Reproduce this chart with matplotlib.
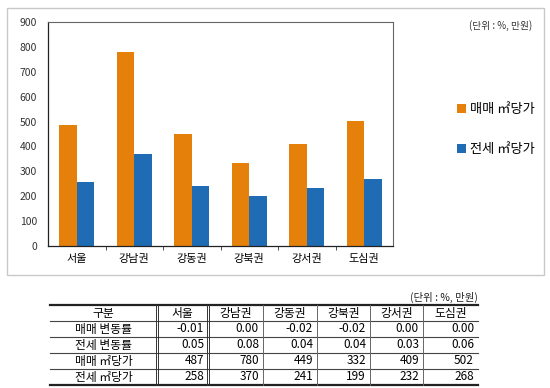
import matplotlib
matplotlib.use("Agg")
import matplotlib.pyplot as plt
import numpy as np
from matplotlib.patches import Rectangle
from matplotlib.lines import Line2D

plt.rcParams['font.family'] = ['Noto Sans CJK KR', 'DejaVu Sans']

regions = ['서울', '강남권', '강동권', '강북권', '강서권', '도심권']
sale_per_m2 = [487, 780, 449, 332, 409, 502]
jeonse_per_m2 = [258, 370, 241, 199, 232, 268]
sale_change = ['-0.01', '0.00', '-0.02', '-0.02', '0.00', '0.00']
jeonse_change = ['0.05', '0.08', '0.04', '0.04', '0.03', '0.06']
series_names = ['매매 ㎡당가', '전세 ㎡당가']
row_labels = ['매매 변동률', '전세 변동률', '매매 ㎡당가', '전세 ㎡당가']
yticks = list(range(0, 901, 100))
unit_text = '(단위 : %, 만원)'
header_first = '구분'

ORANGE = '#E5800B'
BLUE = '#1F6BB4'

W, H = 550, 388
fig = plt.figure(figsize=(W / 100, H / 100), dpi=100)

def px_axes(x0, y0, x1, y1):
    return fig.add_axes([x0 / W, 1 - y1 / H, (x1 - x0) / W, (y1 - y0) / H])

# overlay for borders and table
ov = fig.add_axes([0, 0, 1, 1])
ov.set_xlim(0, W)
ov.set_ylim(H, 0)
ov.axis('off')
ov.add_patch(Rectangle((7, 8), 537, 267, fill=False, ec='#c8c8c8', lw=1.0))

ax = px_axes(48, 22, 393, 246)
x = np.arange(len(regions))
bw = 0.305
ax.bar(x - bw / 2, sale_per_m2, bw, color=ORANGE, label=series_names[0])
ax.bar(x + bw / 2, jeonse_per_m2, bw, color=BLUE, label=series_names[1])
ax.set_xlim(-0.5, len(regions) - 0.5)
ax.set_ylim(0, 900)
ax.set_yticks(yticks)
ax.set_yticklabels([str(v) for v in yticks], fontsize=7.5, color='#333333')
ax.set_xticks(x)
ax.set_xticklabels(regions, fontsize=8)
ax.set_xticks(np.arange(0.5, len(regions) - 0.5, 1), minor=True)
ax.tick_params(axis='x', which='major', length=0, pad=6)
ax.tick_params(axis='x', which='minor', length=3, direction='out', color='#333333')
ax.tick_params(axis='y', length=0, pad=8)
for s in ['top', 'right']:
    ax.spines[s].set_color('#666666')
    ax.spines[s].set_linewidth(0.8)
for s in ['left', 'bottom']:
    ax.spines[s].set_color('#222222')
    ax.spines[s].set_linewidth(0.9)

ax.legend(loc='upper left', bbox_to_anchor=(1.17, 0.66), frameon=False,
          fontsize=9.5, handlelength=0.7, handleheight=0.7, handletextpad=0.3,
          labelspacing=2.0, borderaxespad=0)

ov.text(532, 26, unit_text, fontsize=7, ha='right', va='center', color='#333333')

# ---- table ----
tx0, tx1 = 50, 478
ty0 = 305
rh = 16
col_edges = [50, 157, 208, 263, 317, 370, 423, 478]
ov.text(tx1, 297, unit_text, fontsize=7.5, ha='right', va='center', color='#222222')
rows = [sale_change, jeonse_change,
        [str(v) for v in sale_per_m2], [str(v) for v in jeonse_per_m2]]
nrows = len(rows) + 1
ybottom = ty0 + nrows * rh
# horizontal lines
ov.add_line(Line2D([tx0, tx1], [ty0, ty0], color='#222222', lw=1.6))
ov.add_line(Line2D([tx0, tx1], [ybottom, ybottom], color='#222222', lw=1.6))
for i in range(1, nrows):
    yy = ty0 + i * rh
    ov.add_line(Line2D([tx0, tx1], [yy, yy], color='#444444', lw=0.8))
# vertical lines
for j, xe in enumerate(col_edges[1:-1]):
    if j in (0, 1):
        ov.add_line(Line2D([xe - 1.2, xe - 1.2], [ty0, ybottom], color='#333333', lw=0.7))
        ov.add_line(Line2D([xe + 1.2, xe + 1.2], [ty0, ybottom], color='#333333', lw=0.7))
    else:
        ov.add_line(Line2D([xe, xe], [ty0, ybottom], color='#666666', lw=0.7))

fs = 8.5
yc = ty0 + rh / 2
ov.text((col_edges[0] + col_edges[1]) / 2, yc, header_first, ha='center', va='center', fontsize=fs)
for j, r in enumerate(regions):
    ov.text((col_edges[j + 1] + col_edges[j + 2]) / 2, yc, r, ha='center', va='center', fontsize=fs)
for i, (lab, vals) in enumerate(zip(row_labels, rows)):
    yc = ty0 + (i + 1.5) * rh
    ov.text((col_edges[0] + col_edges[1]) / 2, yc, lab, ha='center', va='center', fontsize=fs)
    for j, v in enumerate(vals):
        ov.text(col_edges[j + 2] - 4, yc, v, ha='right', va='center', fontsize=fs)

fig.savefig('out.png', dpi=100)
